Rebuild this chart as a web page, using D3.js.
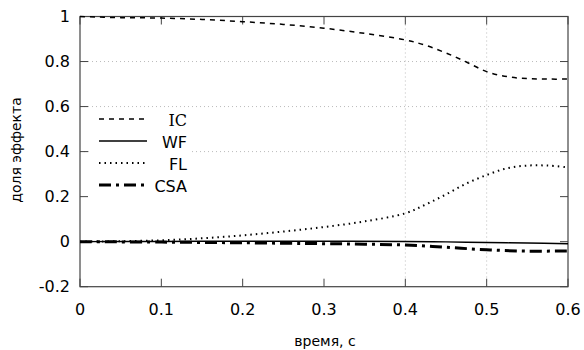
<!DOCTYPE html>
<html><head><meta charset="utf-8">
<script src="https://cdn.jsdelivr.net/npm/d3@7"></script>
<style>body{margin:0;background:#fff}svg{display:block}</style>
</head><body>
<svg id="c" width="584" height="350"></svg>
<script>
const timeIC = [0,0.05,0.1,0.15,0.2,0.25,0.3,0.35,0.4,0.425,0.45,0.475,0.5,0.525,0.55,0.575,0.6];
const valIC  = [1.0,0.995,0.993,0.987,0.977,0.965,0.948,0.925,0.896,0.872,0.838,0.798,0.755,0.733,0.724,0.722,0.722];
const timeFL = [0,0.05,0.1,0.15,0.2,0.25,0.3,0.35,0.4,0.425,0.45,0.475,0.5,0.525,0.55,0.575,0.6];
const valFL  = [0,0.002,0.006,0.015,0.028,0.045,0.065,0.09,0.126,0.165,0.21,0.258,0.296,0.326,0.338,0.338,0.33];
const timeWF = [0,0.1,0.2,0.3,0.4,0.45,0.5,0.55,0.6];
const valWF  = [0,0.001,0.002,0.002,0.001,-0.001,-0.004,-0.006,-0.009];
const timeCSA = [0,0.1,0.2,0.3,0.35,0.4,0.45,0.5,0.55,0.6];
const valCSA  = [0,-0.002,-0.005,-0.009,-0.011,-0.015,-0.025,-0.036,-0.042,-0.041];
const xTicks = [0,0.1,0.2,0.3,0.4,0.5,0.6];
const yTicks = [-0.2,0,0.2,0.4,0.6,0.8,1];
const seriesNames = ["IC","WF","FL","CSA"];
const xGrid = [0.4,0.5];
const yGrid = [0.4,0.6,0.8];

const svg = d3.select("#c");
const L=80,R=568,T=16.5,B=286.7;
const x = d3.scaleLinear().domain([0,0.6]).range([L,R]);
const y = d3.scaleLinear().domain([-0.2,1]).range([B,T]);
const font = "DejaVu Sans, Verdana, sans-serif";

// grid
svg.append("g").selectAll("line").data(yGrid).join("line")
  .attr("x1",L).attr("x2",R).attr("y1",d=>y(d)).attr("y2",d=>y(d))
  .attr("stroke","#bbb").attr("stroke-width",1).attr("stroke-dasharray","1,3");
svg.append("g").selectAll("line").data(xGrid).join("line")
  .attr("y1",T).attr("y2",B).attr("x1",d=>x(d)).attr("x2",d=>x(d))
  .attr("stroke","#bbb").attr("stroke-width",1).attr("stroke-dasharray","1,3");

// legend background
svg.append("rect").attr("x",90).attr("y",109).attr("width",102).attr("height",88).attr("fill","#fff");

// frame
svg.append("rect").attr("x",L).attr("y",T).attr("width",R-L).attr("height",B-T)
  .attr("fill","none").attr("stroke","#444").attr("stroke-width",1.2);

// axes (inward ticks)
const ax = svg.append("g").attr("font-family",font).attr("font-size",16).attr("fill","#000");
xTicks.forEach(t=>{
  ax.append("line").attr("x1",x(t)).attr("x2",x(t)).attr("y1",B).attr("y2",B-8).attr("stroke","#444");
  ax.append("line").attr("x1",x(t)).attr("x2",x(t)).attr("y1",T).attr("y2",T+8).attr("stroke","#444");
  ax.append("text").attr("x",x(t)).attr("y",315).attr("text-anchor","middle").text(d3.format("")(t));
});
yTicks.forEach(t=>{
  ax.append("line").attr("x1",L).attr("x2",L+8).attr("y1",y(t)).attr("y2",y(t)).attr("stroke","#444");
  ax.append("line").attr("x1",R).attr("x2",R-8).attr("y1",y(t)).attr("y2",y(t)).attr("stroke","#444");
  ax.append("text").attr("x",70).attr("y",y(t)).attr("dy","0.36em").attr("text-anchor","end").text(t.toFixed(t===0||t===1?0:1));
});
svg.append("text").attr("x",325).attr("y",346).attr("text-anchor","middle")
  .attr("font-family",font).attr("font-size",14).text("время, с");
svg.append("text").attr("transform","translate(21,150) rotate(-90)").attr("text-anchor","middle")
  .attr("font-family",font).attr("font-size",14).text("доля эффекта");

const line = d3.line().x(d=>x(d[0])).y(d=>y(d[1])).curve(d3.curveCatmullRom);
const styles = {
  IC:{w:1.5,dash:"5,5",data:d3.zip(timeIC,valIC)},
  WF:{w:1.4,dash:null,data:d3.zip(timeWF,valWF)},
  FL:{w:2,dash:"1.5,4",data:d3.zip(timeFL,valFL)},
  CSA:{w:3,dash:"12,5,3,5",data:d3.zip(timeCSA,valCSA)}
};
seriesNames.forEach(n=>{
  const s=styles[n];
  svg.append("path").attr("d",line(s.data)).attr("fill","none").attr("stroke","#000")
    .attr("stroke-width",s.w).attr("stroke-dasharray",s.dash);
});

// legend
seriesNames.forEach((n,i)=>{
  const s=styles[n]; const by=126+i*22;
  svg.append("line").attr("x1",99).attr("x2",147).attr("y1",by-7).attr("y2",by-7)
    .attr("stroke","#000").attr("stroke-width",s.w).attr("stroke-dasharray",s.dash);
  svg.append("text").attr("x",187).attr("y",by).attr("text-anchor","end")
    .attr("font-family",n==="IC"?"DejaVu Serif, serif":font).attr("font-size",16).text(n);
});
</script>
</body></html>
